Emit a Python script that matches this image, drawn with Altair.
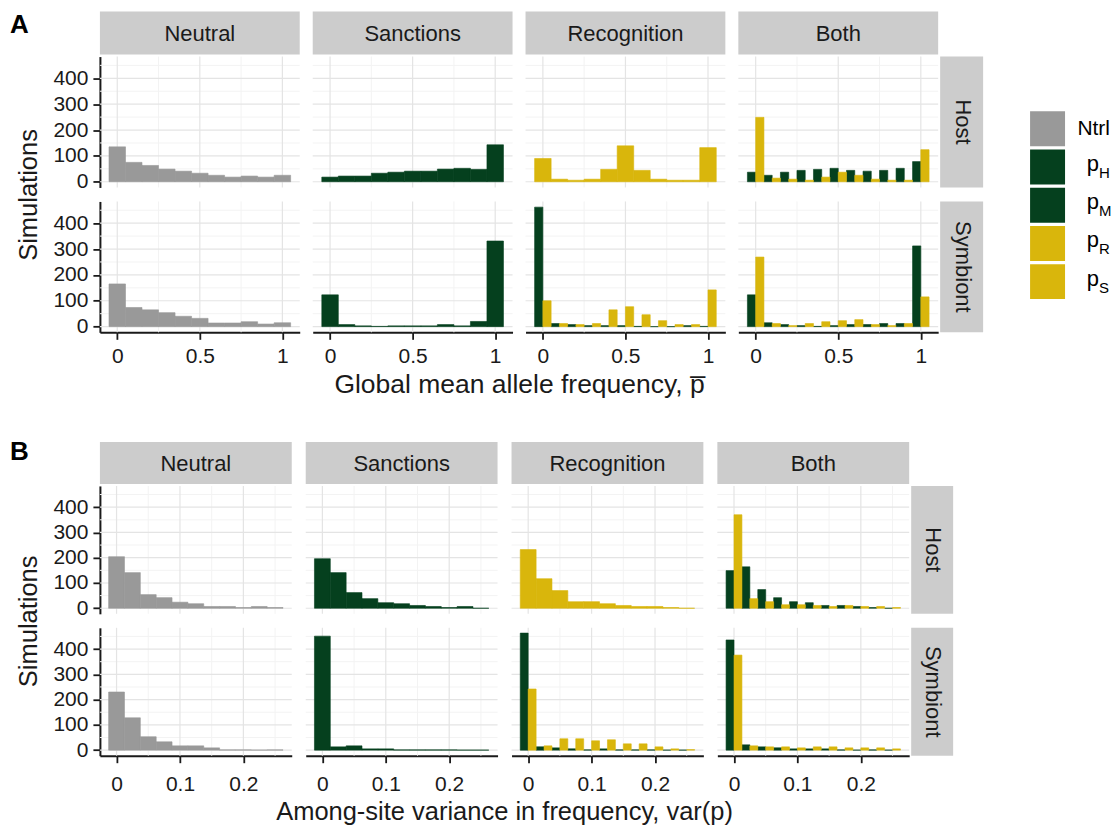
import altair as alt
import pandas as pd

# ---------------- data ----------------
SERIES = ["Ntrl", "pH", "pM", "pR", "pS"]
SERIES_COLORS = ["#999999", "#05401e", "#05401e", "#d9b60c", "#d9b60c"]
LEGEND_MAIN = ["Ntrl", "p", "p", "p", "p"]
LEGEND_SUB = ["", "H", "M", "R", "S"]

COLUMNS = ["Neutral", "Sanctions", "Recognition", "Both"]
ROWS = ["Host", "Symbiont"]

# histogram bin centres
MEAN_CENTERS = [0.0, 0.1, 0.2, 0.3, 0.4, 0.5, 0.6, 0.7, 0.8, 0.9, 1.0]
MEAN_BINWIDTH = 0.1
VAR_CENTERS = [0.0, 0.025, 0.05, 0.075, 0.1, 0.125, 0.15, 0.175, 0.2, 0.225, 0.25]
VAR_BINWIDTH = 0.025

# axis ticks
MEAN_TICKS = [0, 0.5, 1]
MEAN_MINOR = [0.25, 0.75]
VAR_TICKS = [0, 0.1, 0.2]
VAR_MINOR = [0.05, 0.15, 0.25]
COUNT_TICKS = [0, 100, 200, 300, 400]
COUNT_MINOR = [50, 150, 250, 350, 450]

# ---- A: global mean allele frequency ----
A_NEUTRAL_HOST = [135, 75, 63, 49, 41, 33, 25, 18, 22, 18, 25]
A_NEUTRAL_SYM = [165, 74, 65, 54, 40, 32, 14, 14, 19, 10, 15]
A_SANC_HOST_PH = [18, 22, 22, 33, 37, 41, 41, 49, 52, 48, 143]
A_SANC_SYM_PM = [123, 8, 3, 1, 3, 3, 3, 8, 3, 20, 331]
A_RECOG_HOST_PR = [90, 10, 6, 10, 48, 139, 44, 10, 6, 6, 132]
A_RECOG_SYM_PM = [462, 12, 8, 4, 4, 4, 1, 0, 0, 4, 1]
A_RECOG_SYM_PS = [100, 12, 8, 12, 65, 77, 46, 23, 8, 8, 142]
A_BOTH_HOST_PH = [37, 25, 37, 44, 48, 52, 44, 41, 44, 52, 78]
A_BOTH_HOST_PR = [249, 14, 10, 6, 18, 37, 25, 10, 6, 6, 124]
A_BOTH_SYM_PM = [123, 15, 8, 4, 1, 4, 8, 8, 12, 12, 312]
A_BOTH_SYM_PS = [269, 12, 4, 12, 19, 23, 27, 8, 4, 12, 115]

# ---- B: among-site variance ----
B_NEUTRAL_HOST = [204, 141, 54, 42, 24, 18, 7, 7, 3, 7, 3]
B_NEUTRAL_SYM = [230, 128, 53, 33, 17, 17, 9, 1, 1, 0, 1]
B_SANC_HOST_PH = [196, 141, 62, 38, 22, 18, 11, 7, 3, 7, 0]
B_SANC_SYM_PM = [451, 13, 17, 5, 5, 1, 1, 1, 1, 0, 0]
B_RECOG_HOST_PR = [232, 117, 70, 26, 26, 18, 11, 7, 7, 3, 0]
B_RECOG_SYM_PM = [463, 13, 9, 5, 1, 5, 1, 1, 1, 0, 0]
B_RECOG_SYM_PS = [242, 17, 45, 45, 37, 41, 25, 25, 13, 5, 2]
B_BOTH_HOST_PH = [149, 164, 74, 42, 26, 22, 11, 11, 7, 3, 0]
B_BOTH_HOST_PR = [370, 38, 26, 14, 14, 11, 7, 11, 7, 7, 3]
B_BOTH_SYM_PM = [436, 21, 13, 9, 5, 5, 5, 1, 0, 1, 0]
B_BOTH_SYM_PS = [376, 17, 13, 13, 9, 13, 13, 9, 9, 9, 5]

A_PANELS = {
    ("Neutral", "Host"): [("Ntrl", A_NEUTRAL_HOST)],
    ("Neutral", "Symbiont"): [("Ntrl", A_NEUTRAL_SYM)],
    ("Sanctions", "Host"): [("pH", A_SANC_HOST_PH)],
    ("Sanctions", "Symbiont"): [("pM", A_SANC_SYM_PM)],
    ("Recognition", "Host"): [("pR", A_RECOG_HOST_PR)],
    ("Recognition", "Symbiont"): [("pM", A_RECOG_SYM_PM), ("pS", A_RECOG_SYM_PS)],
    ("Both", "Host"): [("pH", A_BOTH_HOST_PH), ("pR", A_BOTH_HOST_PR)],
    ("Both", "Symbiont"): [("pM", A_BOTH_SYM_PM), ("pS", A_BOTH_SYM_PS)],
}
B_PANELS = {
    ("Neutral", "Host"): [("Ntrl", B_NEUTRAL_HOST)],
    ("Neutral", "Symbiont"): [("Ntrl", B_NEUTRAL_SYM)],
    ("Sanctions", "Host"): [("pH", B_SANC_HOST_PH)],
    ("Sanctions", "Symbiont"): [("pM", B_SANC_SYM_PM)],
    ("Recognition", "Host"): [("pR", B_RECOG_HOST_PR)],
    ("Recognition", "Symbiont"): [("pM", B_RECOG_SYM_PM), ("pS", B_RECOG_SYM_PS)],
    ("Both", "Host"): [("pH", B_BOTH_HOST_PH), ("pR", B_BOTH_HOST_PR)],
    ("Both", "Symbiont"): [("pM", B_BOTH_SYM_PM), ("pS", B_BOTH_SYM_PS)],
}

# ---------------- style ----------------
FONT = "Liberation Sans"
TXT = "#1a1a1a"
STRIP_FILL = "#cccccc"
GRID_MAJOR = "#e4e4e4"
GRID_MINOR = "#f3f3f3"
YDOM = [-22, 484]


def bars_frame(centers, binwidth, series_counts):
    rows = []
    k = len(series_counts)
    for j, (s, counts) in enumerate(series_counts):
        for c, n in zip(centers, counts):
            lo = c - binwidth / 2 + j * binwidth / k
            rows.append({"lo": lo, "hi": lo + binwidth / k, "n": n, "series": s})
    return pd.DataFrame(rows)


def panel(df, xdom, xticks, xminor, w, chart_h, panel_h, left_axis, bottom_axis,
          xlabel_pad, ytitle_y=None):
    xs = alt.Scale(domain=xdom, nice=False, zero=False)
    ys = alt.Scale(domain=YDOM, nice=False, zero=False, range=[panel_h, 0])
    if bottom_axis:
        xaxis = alt.Axis(values=xticks, format="~g", title=None, grid=False, labelPadding=xlabel_pad)
    else:
        xaxis = None
    if left_axis:
        if ytitle_y is not None:
            yaxis = alt.Axis(values=COUNT_TICKS, format="d", grid=False, title="Simulations",
                             titleY=ytitle_y, titlePadding=11, titleFontSize=25.5)
        else:
            yaxis = alt.Axis(values=COUNT_TICKS, format="d", grid=False, title=None)
    else:
        yaxis = None

    hmin = alt.Chart(pd.DataFrame({"v": COUNT_MINOR})).mark_rule(color=GRID_MINOR, strokeWidth=1).encode(
        y=alt.Y("v:Q", scale=ys, axis=yaxis))
    hmaj = alt.Chart(pd.DataFrame({"v": COUNT_TICKS})).mark_rule(color=GRID_MAJOR, strokeWidth=1.2).encode(
        y=alt.Y("v:Q", scale=ys, axis=yaxis))
    vmin = alt.Chart(pd.DataFrame({"v": xminor})).mark_rule(color=GRID_MINOR, strokeWidth=1).encode(
        x=alt.X("v:Q", scale=xs, axis=xaxis),
        y=alt.Y(datum=YDOM[0], scale=ys, axis=yaxis), y2=alt.Y2(datum=YDOM[1]))
    vmaj = alt.Chart(pd.DataFrame({"v": xticks})).mark_rule(color=GRID_MAJOR, strokeWidth=1.2).encode(
        x=alt.X("v:Q", scale=xs, axis=xaxis),
        y=alt.Y(datum=YDOM[0], scale=ys, axis=yaxis), y2=alt.Y2(datum=YDOM[1]))
    cscale = alt.Scale(domain=SERIES, range=SERIES_COLORS)
    bars = alt.Chart(df).mark_rect(strokeWidth=0.6).encode(
        x=alt.X("lo:Q", scale=xs, axis=xaxis),
        x2="hi:Q",
        y=alt.Y("n:Q", scale=ys, axis=yaxis),
        y2=alt.Y2(datum=0),
        color=alt.Color("series:N", scale=cscale, legend=None),
        stroke=alt.Stroke("series:N", scale=cscale, legend=None),
    )
    return alt.layer(hmin, vmin, hmaj, vmaj, bars).properties(width=w, height=chart_h)


def top_strip(label, w, h, letter=None, letter_y=None):
    base = alt.Chart(pd.DataFrame({"label": [label]}))
    layers = [
        base.mark_rect(color=STRIP_FILL).encode(
            x=alt.value(0), x2=alt.value(w), y=alt.value(0), y2=alt.value(h)),
        base.mark_text(fontSize=22, color=TXT, align="center", baseline="middle").encode(
            text="label:N", x=alt.value(w / 2), y=alt.value(h / 2 + 1)),
    ]
    if letter:
        layers.append(
            alt.Chart(pd.DataFrame({"t": [letter]})).mark_text(
                fontSize=26, fontWeight="bold", color="black", align="left", baseline="alphabetic"
            ).encode(text="t:N", x=alt.value(-90), y=alt.value(letter_y)))
    return alt.layer(*layers).properties(width=w, height=h)


def side_strip(label, chart_w, left, chart_h, panel_h):
    base = alt.Chart(pd.DataFrame({"label": [label]}))
    rect = base.mark_rect(color=STRIP_FILL).encode(
        x=alt.value(left), x2=alt.value(chart_w), y=alt.value(0), y2=alt.value(panel_h))
    txt = base.mark_text(fontSize=22, color=TXT, align="center", baseline="middle", angle=90).encode(
        text="label:N", x=alt.value((left + chart_w) / 2 + 1), y=alt.value(panel_h / 2))
    return alt.layer(rect, txt).properties(width=chart_w, height=chart_h)


def corner(w, h):
    return alt.Chart(pd.DataFrame({"a": [0]})).mark_rect(opacity=0).encode(
        x=alt.value(0), x2=alt.value(w), y=alt.value(0), y2=alt.value(h)).properties(width=w, height=h)


def section(panels, centers, binwidth, xdom, xticks, xminor, w, col_gap, strip_h, panel_h,
            side_w, side_left, letter, letter_y, xtitle, title_dx, xlabel_pad, title_offset, title_size):
    gap_rows = 14 - 2
    cells = []
    for i, c in enumerate(COLUMNS):
        cells.append(top_strip(c, w, strip_h, letter if i == 0 else None, letter_y))
    cells.append(corner(side_w, strip_h))
    for r, rname in enumerate(ROWS):
        host = r == 0
        chart_h = panel_h + gap_rows if host else panel_h
        for i, c in enumerate(COLUMNS):
            df = bars_frame(centers, binwidth, panels[(c, rname)])
            cells.append(panel(df, xdom, xticks, xminor, w, chart_h, panel_h,
                               left_axis=(i == 0), bottom_axis=not host, xlabel_pad=xlabel_pad,
                               ytitle_y=(panel_h + 7) if (host and i == 0) else None))
        cells.append(side_strip(rname, side_w, side_left, chart_h, panel_h))
    return alt.concat(
        *cells, columns=5, bounds="flush",
        spacing={"row": 2, "column": col_gap},
        title=alt.TitleParams(xtitle, orient="bottom", anchor="middle", fontSize=title_size,
                              fontWeight="normal", color=TXT, dx=title_dx, offset=title_offset,
                              font=FONT),
    )


secA = section(A_PANELS, MEAN_CENTERS, MEAN_BINWIDTH, [-0.105, 1.105], MEAN_TICKS, MEAN_MINOR,
               200, 13, 43, 131, 32, -11, "A", 21.5,
               "Global mean allele frequency, p\u0305", 23, 6, 6, 26.5)
secB = section(B_PANELS, VAR_CENTERS, VAR_BINWIDTH, [-0.02625, 0.27625], VAR_TICKS, VAR_MINOR,
               192, 14, 42, 128, 30, -12, "B", 18,
               "Among-site variance in frequency, var(p)", 23, 11, 5, 25.5)

# ---------------- legend ----------------
leg_df = pd.DataFrame({"series": SERIES, "main": LEGEND_MAIN, "sub": LEGEND_SUB})
ly = alt.Y("series:N", scale=alt.Scale(domain=SERIES, paddingInner=0.086, paddingOuter=0), axis=None)
lbase = alt.Chart(leg_df)
leg = alt.layer(
    lbase.mark_rect().encode(
        y=ly, x=alt.value(0), x2=alt.value(35),
        color=alt.Color("series:N", scale=alt.Scale(domain=SERIES, range=SERIES_COLORS), legend=None)),
    lbase.transform_filter("datum.sub == ''").mark_text(
        align="right", baseline="middle", fontSize=21, color="black").encode(
        y=ly, x=alt.value(80), text="main:N"),
    lbase.transform_filter("datum.sub != ''").mark_text(
        align="right", baseline="middle", fontSize=22, color="black", dy=-3).encode(
        y=ly, x=alt.value(69), text="main:N"),
    lbase.transform_filter("datum.sub != ''").mark_text(
        align="left", baseline="middle", fontSize=15, color="black", dy=6).encode(
        y=ly, x=alt.value(69), text="sub:N"),
).properties(width=80, height=188)

chart = alt.vconcat(
    alt.hconcat(secA, leg, spacing=47, center=True),
    secB,
    spacing=40,
).properties(
    padding={"left": 10, "top": 11, "right": 2, "bottom": 0}
).configure(font=FONT).configure_view(stroke=None).configure_axis(
    labelFontSize=21, labelColor=TXT, labelFont=FONT, tickColor=TXT, domainColor=TXT,
    tickWidth=1.8, domainWidth=2, tickSize=7, labelPadding=5, grid=False, zindex=2,
    titleFontSize=24, titleFontWeight="normal", titleColor=TXT, titleFont=FONT,
)

chart.save("out.html", embed_options={"renderer": "svg", "actions": False})
